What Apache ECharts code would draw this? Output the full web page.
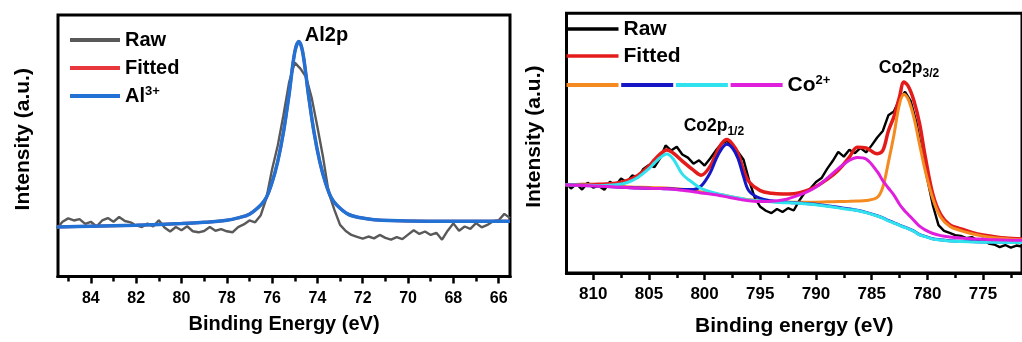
<!DOCTYPE html>
<html><head><meta charset="utf-8">
<script src="https://cdn.jsdelivr.net/npm/echarts@6/dist/echarts.min.js"></script>
<style>html,body{margin:0;padding:0;background:#fff}#c{width:1022px;height:342px}</style>
</head><body><div id="c"></div><script>
// ---------- Left panel: Al2p ----------
const alTicksMajor = [84, 82, 80, 78, 76, 74, 72, 70, 68, 66];
const alTicksMinor = [85, 83, 81, 79, 77, 75, 73, 71, 69, 67];
const alRawEnergy = [
  85.5,85.25,85.0,84.75,84.5,84.25,84.0,83.75,83.5,83.25,
  83.0,82.75,82.5,82.25,82.0,81.75,81.5,81.25,81.0,80.75,
  80.5,80.25,80.0,79.75,79.5,79.25,79.0,78.75,78.5,78.25,
  78.0,77.75,77.5,77.25,77.0,76.75,76.5,76.25,76.0,75.75,
  75.5,75.25,75.0,74.75,74.5,74.25,74.0,73.75,73.5,73.25,
  73.0,72.75,72.5,72.25,72.0,71.75,71.5,71.25,71.0,70.75,
  70.5,70.25,70.0,69.75,69.5,69.25,69.0,68.75,68.5,68.25,
  68.0,67.75,67.5,67.25,67.0,66.75,66.5,66.25,66.0,65.75,
  65.5];
const alRaw = [
  18.5,21.0,22.3,21.5,22.0,20.2,21.0,19.2,21.5,22.4,
  21.0,22.8,21.3,20.8,19.6,19.0,20.3,19.2,21.6,18.8,
  17.3,19.0,17.8,19.3,17.4,17.0,17.5,19.0,17.6,18.2,
  17.4,17.0,19.0,20.0,21.5,20.8,23.5,30.0,41.0,50.0,
  61.5,74.0,81.5,79.2,76.0,68.0,57.0,45.5,32.0,25.5,
  19.8,17.5,16.0,15.3,14.6,15.4,14.7,16.0,14.9,14.2,
  15.2,14.4,16.1,17.8,16.4,17.3,16.0,16.8,14.2,17.6,
  20.4,17.6,19.2,18.3,20.5,18.9,19.8,21.2,21.6,24.0,
  22.4];
const alFitEnergy = [85.5,84,82,80,79,78,77.5,77,76.5,76.25,76,75.75,75.5,75.25,75.0,74.82,74.65,74.4,74.15,73.9,73.65,73.4,73.15,72.65,72.15,71.5,70,68,66,65.5];
const alFitted   = [19.0,19.3,19.7,20.3,20.8,21.6,22.5,23.9,27.4,30.3,36.0,44.0,55.0,69.5,85.5,89.5,85.5,69.5,55.0,44.0,36.0,30.3,27.4,23.9,22.6,21.8,21.3,21.2,21.2,21.2];
const al3plus    = [19.0,19.3,19.7,20.3,20.8,21.6,22.5,23.9,27.4,30.3,36.0,44.0,55.0,69.5,85.5,89.5,85.5,69.5,55.0,44.0,36.0,30.3,27.4,23.9,22.6,21.8,21.3,21.2,21.2,21.2];

// ---------- Right panel: Co2p ----------
const coTicksMajor = [810, 805, 800, 795, 790, 785, 780, 775];
const coTicksMinor = [812.5, 807.5, 802.5, 797.5, 792.5, 787.5, 782.5, 777.5, 772.5];
const coRawEnergy = [
  812.5,812.0,811.5,811.0,810.5,810.0,809.5,809.0,808.5,808.0,
  807.5,807.0,806.5,806.0,805.5,805.0,804.5,804.0,803.5,803.0,
  802.5,802.0,801.5,801.0,800.5,800.0,799.5,799.0,798.5,798.0,
  797.5,797.0,796.5,796.0,795.5,795.0,794.5,794.0,793.5,793.0,
  792.5,792.0,791.5,791.0,790.5,790.0,789.5,789.0,788.5,788.0,
  787.5,787.0,786.5,786.0,785.5,785.0,784.5,784.0,783.5,783.0,
  782.5,782.0,781.5,781.0,780.5,780.0,779.5,779.0,778.5,778.0,
  777.5,777.0,776.5,776.0,775.5,775.0,774.5,774.0,773.5,773.0,
  772.5,772.0,771.5];
const coRaw = [
  35.5,33.0,34.8,32.6,35.2,33.4,34.0,32.5,35.6,34.2,
  36.8,35.4,38.0,37.2,40.5,42.0,41.2,44.5,49.5,47.5,
  49.0,46.0,44.8,42.5,43.8,41.8,44.5,47.5,50.0,51.2,
  49.5,47.0,44.0,36.0,29.5,26.0,24.5,23.6,25.2,24.0,
  25.5,24.6,28.4,31.5,33.0,35.5,37.0,40.5,43.5,47.0,
  45.2,47.8,46.5,48.5,46.8,49.5,52.5,55.0,61.0,62.5,
  67.0,70.0,66.5,58.5,47.0,36.5,26.5,19.0,16.8,16.0,
  15.2,14.9,14.0,14.4,13.2,13.8,12.0,11.6,10.6,11.4,
  10.4,11.2,10.8];
const coFitEnergy = [812.5,811,809.5,808,807,806,805,804.5,804,803.4,
  802.8,802,801,800.3,799.5,799,798.5,798,797.5,797,
  796.5,796,795,794,793,792,791,790,789,788,
  787,786.3,785.5,784.5,784,783.5,783,782.5,782.1,781.7,
  781.2,780.7,780.2,779.5,778.8,778,777,776,775,774,
  773,771.5];
const coFitted = [34.4,34.5,34.6,35.0,36.0,38.0,41.6,44.0,46.2,47.7,
  46.5,43.5,40.0,38.1,41.5,46.0,50.0,51.7,50.0,46.5,
  40.0,35.5,32.2,31.2,30.9,31.0,32.0,33.8,36.5,40.0,
  45.0,48.8,48.5,46.3,47.5,55.0,60.5,68.0,73.7,72.0,
  66.5,57.9,45.5,30.7,23.0,19.2,17.6,16.2,15.2,14.6,
  14.1,13.7];
const coOrange = [34.4,34.3,34.1,33.9,33.7,33.5,33.4,33.3,33.3,33.2,
  33.0,32.7,32.2,31.7,31.3,31.0,30.6,30.2,29.8,29.4,
  29.0,28.7,28.3,28.0,27.9,27.8,27.8,27.8,27.9,28.0,
  28.1,28.2,28.4,29.6,33.5,43.0,53.5,65.3,69.0,67.0,
  60.0,50.0,40.0,29.0,22.0,18.6,16.9,15.7,14.8,14.2,
  13.8,13.4];
const coBlue = [34.4,34.2,33.9,33.6,33.4,33.2,33.1,33.0,33.0,32.9,
  32.8,32.6,32.6,34.0,39.0,44.0,48.0,49.9,48.5,44.5,
  37.5,32.0,29.2,28.3,27.9,27.6,27.3,27.0,26.4,25.8,
  25.2,24.7,23.9,22.6,21.8,20.8,19.9,19.0,18.3,17.7,
  16.7,15.4,14.7,13.8,13.4,13.0,12.8,12.7,12.6,12.6,
  12.5,12.5];
const coCyan = [34.4,34.3,34.1,34.4,35.2,37.2,40.6,42.8,44.8,46.2,
  44.2,38.5,35.0,33.0,31.8,31.2,30.7,30.2,29.8,29.4,
  29.0,28.6,28.2,27.9,27.6,27.5,27.2,26.8,26.2,25.6,
  25.0,24.6,23.8,22.5,21.7,20.6,19.8,18.9,18.2,17.6,
  16.6,15.3,14.6,13.7,13.3,12.9,12.7,12.6,12.5,12.5,
  12.4,12.4];
const coMagenta = [34.4,34.2,33.9,33.6,33.4,33.2,33.1,33.0,33.0,32.9,
  32.7,32.3,31.8,31.3,30.9,30.6,30.2,29.8,29.4,29.0,
  28.6,28.3,28.0,28.1,28.6,29.8,31.3,33.6,36.9,40.6,
  43.8,44.9,44.3,39.5,36.0,33.2,30.5,27.0,24.8,23.0,
  20.8,18.6,17.2,15.8,15.0,14.5,14.1,13.8,13.6,13.4,
  13.3,13.2];

const FONT = '"Liberation Sans", Arial, sans-serif';
const zip = (xs, ys) => xs.map((x, i) => [x, ys[i]]);
const bold = (size, extra) => Object.assign({fontSize: size, fontWeight: 'bold', color: '#000', fontFamily: FONT}, extra || {});

function lineSeries(name, xi, yi, xs, ys, color, width, z, extra) {
  return Object.assign({
    name, type: 'line', xAxisIndex: xi, yAxisIndex: yi,
    data: zip(xs, ys), symbol: 'none', smooth: 0.35, z,
    lineStyle: {color, width}, itemStyle: {color}, emphasis: {disabled: true}
  }, extra || {});
}

const frame = {show: true, borderColor: '#000', borderWidth: 3, backgroundColor: 'transparent'};
const axLine = {show: true, onZero: false, lineStyle: {color: '#000', width: 3}};
const chart = echarts.init(document.getElementById('c'));
chart.setOption({
  animation: false,
  backgroundColor: '#fff',
  grid: [
    Object.assign({left: 58, right: 512, top: 15, bottom: 65.5}, frame),
    Object.assign({left: 566.5, right: -5, top: 13.3, bottom: 61}, frame)
  ],
  xAxis: [
    {gridIndex: 0, type: 'value', min: 65.5, max: 85.45, inverse: true, position: 'bottom',
     axisLine: axLine, splitLine: {show: false},
     axisTick: {show: true, length: 7, customValues: alTicksMajor, lineStyle: {color: '#000', width: 2.5}},
     axisLabel: {customValues: alTicksMajor, margin: 14, ...bold(16)},
     name: 'Binding Energy (eV)', nameLocation: 'middle', nameGap: 38, nameTextStyle: bold(20)},
    {gridIndex: 0, type: 'value', min: 65.5, max: 85.45, inverse: true, position: 'bottom',
     axisLine: axLine, splitLine: {show: false}, axisLabel: {show: false},
     axisTick: {show: true, length: 5, customValues: alTicksMinor, lineStyle: {color: '#000', width: 2.5}}},
    {gridIndex: 1, type: 'value', min: 771.5, max: 812.4, inverse: true, position: 'bottom',
     axisLine: axLine, splitLine: {show: false},
     axisTick: {show: true, length: 7, customValues: coTicksMajor, lineStyle: {color: '#000', width: 2.5}},
     axisLabel: {customValues: coTicksMajor, margin: 13, ...bold(17)},
     name: 'Binding energy (eV)', nameLocation: 'middle', nameGap: 43, nameTextStyle: bold(21)},
    {gridIndex: 1, type: 'value', min: 771.5, max: 812.4, inverse: true, position: 'bottom',
     axisLine: axLine, splitLine: {show: false}, axisLabel: {show: false},
     axisTick: {show: true, length: 5, customValues: coTicksMinor, lineStyle: {color: '#000', width: 2.5}}}
  ],
  yAxis: [
    {gridIndex: 0, type: 'value', min: 0.2, max: 99.6, axisLine: {show: false}, axisTick: {show: false},
     axisLabel: {show: false}, splitLine: {show: false},
     name: 'Intensity (a.u.)', nameLocation: 'middle', nameGap: 24, nameTextStyle: bold(21, {padding: [0, 0, 0, 13]})},
    {gridIndex: 1, type: 'value', min: 0.7, max: 100, axisLine: {show: false}, axisTick: {show: false},
     axisLabel: {show: false}, splitLine: {show: false},
     name: 'Intensity (a.u.)', nameLocation: 'middle', nameGap: 22, nameTextStyle: bold(21, {padding: [0, 0, 0, 13]})}
  ],
  legend: [
    {data: ['Raw', 'Fitted', 'Al3+'], orient: 'vertical', left: 70, top: 29, padding: 0,
     itemWidth: 50, itemHeight: 4, itemGap: 6, icon: 'rect', selectedMode: false,
     formatter: n => n === 'Al3+' ? 'Al{sup|3+}' : n,
     textStyle: bold(20, {lineHeight: 22, rich: {sup: bold(13, {verticalAlign: 'top', lineHeight: 13})}})},
    {data: ['Raw_Co', 'Fitted_Co'], orient: 'vertical', left: 566.5, top: 18, padding: 0,
     itemWidth: 52, itemHeight: 3.5, itemGap: 5, icon: 'rect', selectedMode: false,
     formatter: n => n.replace('_Co', ''),
     textStyle: bold(21, {lineHeight: 22})},
    {data: ['Co_a', 'Co_b', 'Co_c', 'Co_d'], orient: 'horizontal', left: 566.5, top: 74, padding: 0,
     itemWidth: 52, itemHeight: 4, itemGap: -2.3, icon: 'rect', selectedMode: false,
     formatter: n => n === 'Co_d' ? 'Co{sup|2+}' : '',
     textStyle: bold(21, {lineHeight: 22, rich: {sup: bold(13, {verticalAlign: 'top', lineHeight: 13})}})}
  ],
  series: [
    lineSeries('Raw', 0, 0, alRawEnergy, alRaw, '#595959', 2.4, 2, {smooth: false}),
    lineSeries('Fitted', 0, 0, alFitEnergy, alFitted, '#e8383d', 3, 3),
    lineSeries('Al3+', 0, 0, alFitEnergy, al3plus, '#2271d4', 3.5, 4, {
      markPoint: {symbol: 'rect', symbolSize: 1, itemStyle: {color: 'rgba(0,0,0,0)'}, silent: true,
        label: {show: true, position: 'inside', formatter: 'Al2p', ...bold(20)},
        data: [{coord: [73.6, 92], name: 'Al2p'}]}
    }),
    lineSeries('Raw_Co', 2, 1, coRawEnergy, coRaw, '#000000', 2.4, 2, {smooth: false}),
    lineSeries('Fitted_Co', 2, 1, coFitEnergy, coFitted, '#e31b1b', 3.5, 3),
    lineSeries('Co_a', 2, 1, coFitEnergy, coOrange, '#f48a20', 3, 4),
    lineSeries('Co_b', 2, 1, coFitEnergy, coBlue, '#1616c6', 3, 5),
    lineSeries('Co_c', 2, 1, coFitEnergy, coCyan, '#2fe2ee', 3, 6),
    lineSeries('Co_d', 2, 1, coFitEnergy, coMagenta, '#e01fdd', 3, 7, {
      markPoint: {symbol: 'rect', symbolSize: 1, itemStyle: {color: 'rgba(0,0,0,0)'}, silent: true,
        label: {show: true, position: 'inside', ...bold(17.5, {lineHeight: 22}),
          formatter: p => p.name === 'p32' ? 'Co2p{sub|3/2}' : 'Co2p{sub|1/2}',
          rich: {sub: bold(12, {verticalAlign: 'bottom', lineHeight: 12})}},
        data: [{coord: [781.65, 78.9], name: 'p32'}, {coord: [799.17, 56.7], name: 'p12'}]}
    })
  ]
});
</script></body></html>
